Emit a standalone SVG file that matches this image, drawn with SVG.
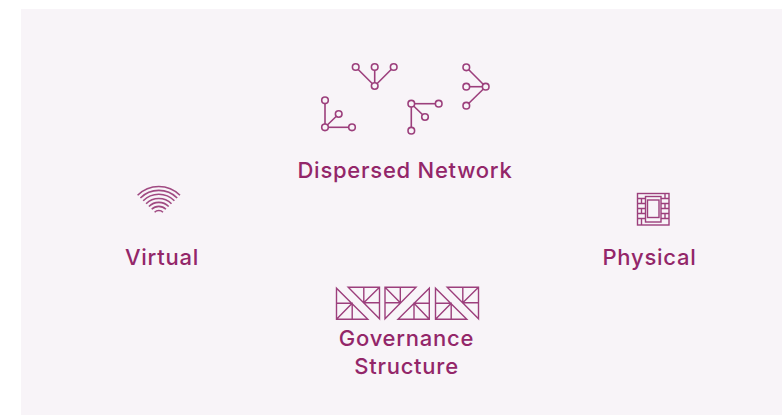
<svg xmlns="http://www.w3.org/2000/svg" width="782" height="415" viewBox="0 0 782 415">
<style>
.l{font-family:"Inter","Noto Sans",sans-serif;font-weight:450;font-size:22px;letter-spacing:.75px;fill:#932669;text-anchor:middle;stroke:none}
.n line{stroke:#9c3f7c;stroke-width:1.6}
.n circle{fill:#f8f4f8;stroke:#9c3f7c;stroke-width:1.6}
.g{fill:none;stroke:#9c3f7c;stroke-width:1.4}
.w path{fill:none;stroke:#a04a82;stroke-width:1.6}
.b path,.b rect{fill:none;stroke:#9c3f7c;stroke-width:1.4}
</style>
<defs>
<path id="t1" d="M336 288.3V319.3H367.3ZM336 319.3L351.7 303.3M336 303.3H351.7V319.3M347.7 287.3H379V318.7ZM379 287.3L363.3 302.7M363.3 287.3V302.7H379"/>
</defs>
<rect x="0" y="0" width="782" height="415" fill="#fff"/>
<rect x="21" y="9" width="761" height="406" fill="#f8f4f8"/>
<g id="network" class="n">
<line x1="374.7" y1="86" x2="355.7" y2="67"/><line x1="374.7" y1="86" x2="374.7" y2="67"/><line x1="374.7" y1="86" x2="393.7" y2="67"/>
<circle cx="355.7" cy="67" r="3.3"/><circle cx="374.7" cy="67" r="3.3"/><circle cx="393.7" cy="67" r="3.3"/><circle cx="374.7" cy="86" r="3.3"/>
<line x1="485.7" y1="86.7" x2="466.3" y2="67.3"/><line x1="485.7" y1="86.7" x2="466.3" y2="86.7"/><line x1="485.7" y1="86.7" x2="466.3" y2="105.7"/>
<circle cx="466.3" cy="67.3" r="3.3"/><circle cx="466.3" cy="86.7" r="3.3"/><circle cx="466.3" cy="105.7" r="3.3"/><circle cx="485.7" cy="86.7" r="3.3"/>
<line x1="325" y1="127.3" x2="325" y2="100.3"/><line x1="325" y1="127.3" x2="338.7" y2="114"/><line x1="325" y1="127.3" x2="352" y2="127.3"/>
<circle cx="325" cy="100.3" r="3.3"/><circle cx="338.7" cy="114" r="3.3"/><circle cx="352" cy="127.3" r="3.3"/><circle cx="325" cy="127.3" r="3.3"/>
<line x1="411.3" y1="103.7" x2="438.7" y2="103.7"/><line x1="411.3" y1="103.7" x2="425" y2="117"/><line x1="411.3" y1="103.7" x2="411.3" y2="130.7"/>
<circle cx="438.7" cy="103.7" r="3.3"/><circle cx="425" cy="117" r="3.3"/><circle cx="411.3" cy="130.7" r="3.3"/><circle cx="411.3" cy="103.7" r="3.3"/>
<text class="l" x="405" y="178">Dispersed Network</text>
</g>
<g id="virtual" class="w">
<path d="M137.6 195.2A30 30 0 0 1 180 195.2"/>
<path d="M140.4 198A26 26 0 0 1 177.2 198"/>
<path d="M143.2 200.8A22 22 0 0 1 174.4 200.8"/>
<path d="M146.1 203.7A18 18 0 0 1 171.5 203.7"/>
<path d="M148.9 206.5A14 14 0 0 1 168.7 206.5"/>
<path d="M151.7 209.3A10 10 0 0 1 165.9 209.3"/>
<path d="M154.6 212.2A6 6 0 0 1 163 212.2"/>
<text class="l" x="162" y="265">Virtual</text>
</g>
<g id="physical" class="b">
<rect x="637.5" y="193.5" width="31.5" height="31.5"/>
<rect x="645.5" y="196.5" width="15.5" height="25.5"/>
<rect x="647.5" y="200" width="11.5" height="17.5"/>
<path d="M637.5 198.5H645.5M637.5 203.5H645.5M637.5 208.5H645.5M637.5 213.5H645.5M637.5 218.5H645.5M661 198.5H669M661 203.5H669M661 208.5H669M661 213.5H669M661 218.5H669M641.5 198.5V203.5M641.5 208.5V213.5M641.5 218.5V225M665 193.5V198.5M665 203.5V208.5M665 213.5V218.5"/>
<text class="l" x="649.5" y="265">Physical</text>
</g>
<g id="governance" class="g">
<use href="#t1" x="0.5"/>
<path d="M385 287.3H416L385 318.7ZM385 287.3L400.3 302.7M400.3 287.3V302.7H385M429.3 288.3V319.3H398ZM429.3 319.3L414 303.3M414 319.3V303.3H429.3"/>
<use href="#t1" x="99.5"/>
<text class="l" x="406.5" y="346">Governance</text>
<text class="l" x="406.5" y="374">Structure</text>
</g>
</svg>
